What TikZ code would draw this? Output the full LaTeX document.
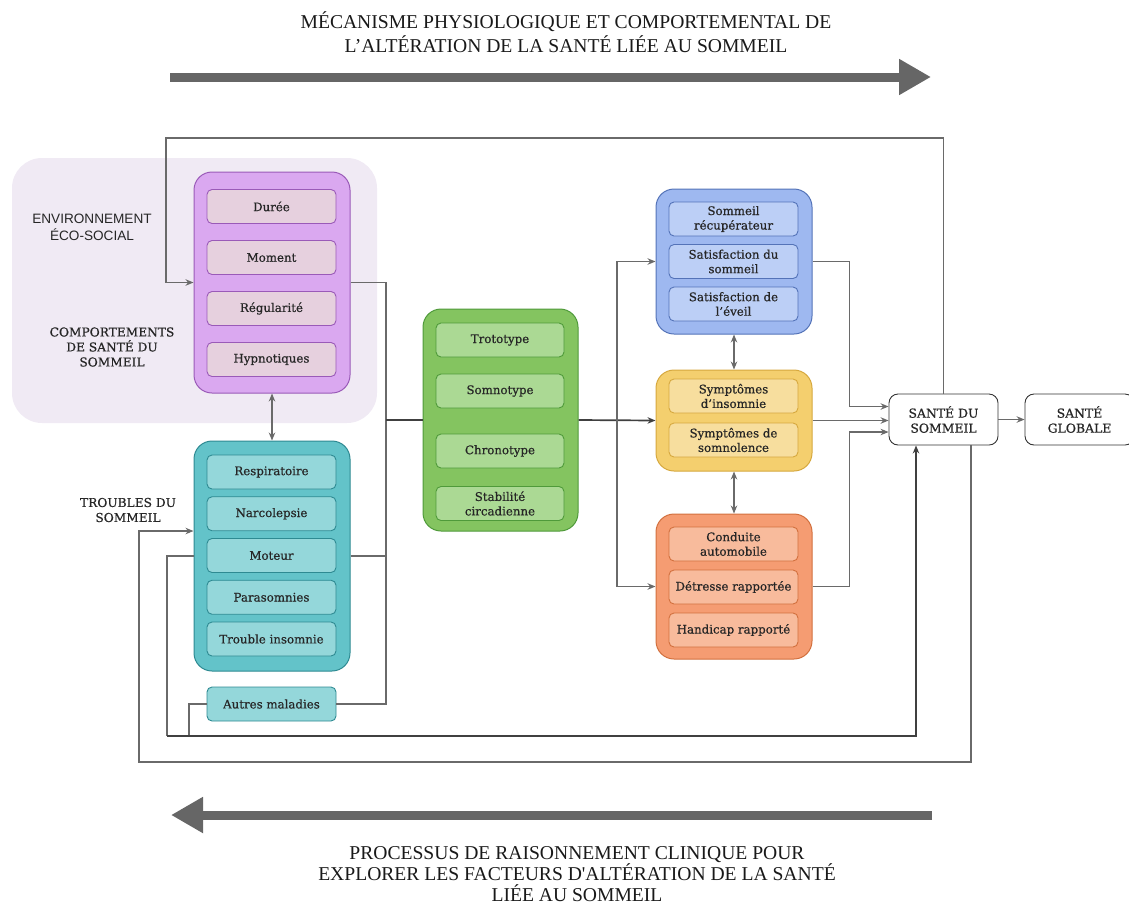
\documentclass[tikz,border=0pt]{standalone}
\usepackage{fontspec}
\setmainfont{DejaVu Serif}
\newfontfamily\boxfont{DejaVu Serif}[FakeBold=0.6]
\newfontfamily\titlefont{Liberation Serif}
\newfontfamily\labelsans{Liberation Sans}
\usetikzlibrary{arrows.meta}

\definecolor{bgLav}{HTML}{F0EAF4}
\definecolor{purOut}{HTML}{DAA8F0}
\definecolor{purLine}{HTML}{9A5AB8}
\definecolor{purIn}{HTML}{E6D0DE}
\definecolor{tealOut}{HTML}{63C3C9}
\definecolor{tealLine}{HTML}{2E8A92}
\definecolor{tealIn}{HTML}{94D7DA}
\definecolor{grnOut}{HTML}{84C460}
\definecolor{grnLine}{HTML}{4F9A3A}
\definecolor{grnIn}{HTML}{ABD994}
\definecolor{bluOut}{HTML}{9EB8F0}
\definecolor{bluLine}{HTML}{5473B8}
\definecolor{bluIn}{HTML}{BCCFF6}
\definecolor{yelOut}{HTML}{F4CF6E}
\definecolor{yelLine}{HTML}{D6A83E}
\definecolor{yelIn}{HTML}{F7DE9E}
\definecolor{orgOut}{HTML}{F59C72}
\definecolor{orgLine}{HTML}{D2703E}
\definecolor{orgIn}{HTML}{F8BB9C}
\definecolor{bigArrow}{HTML}{666666}
\definecolor{wireGray}{HTML}{6A6A6A}

\begin{document}
\begin{tikzpicture}[x=1pt,y=1pt,>={Stealth[length=8pt,width=6.5pt]},
    group box/.style={rounded corners=18pt,draw,line width=1pt},
    item box/.style={rounded corners=5pt,draw,line width=0.9pt,minimum width=129pt,minimum height=34pt,inner sep=1pt,align=center,text=black!85,font=\boxfont\fontsize{11.8}{14.5}\selectfont},
    purple grp/.style={group box,fill=purOut,draw=purLine,minimum width=156pt},
    purple item/.style={item box,fill=purIn,draw=purLine},
    teal grp/.style={group box,fill=tealOut,draw=tealLine,minimum width=156pt},
    teal item/.style={item box,fill=tealIn,draw=tealLine},
    green grp/.style={group box,fill=grnOut,draw=grnLine,minimum width=155pt},
    green item/.style={item box,fill=grnIn,draw=grnLine,minimum width=128pt},
    blue grp/.style={group box,fill=bluOut,draw=bluLine,minimum width=156pt},
    blue item/.style={item box,fill=bluIn,draw=bluLine},
    yellow grp/.style={group box,fill=yelOut,draw=yelLine,minimum width=156pt},
    yellow item/.style={item box,fill=yelIn,draw=yelLine},
    orange grp/.style={group box,fill=orgOut,draw=orgLine,minimum width=156pt},
    orange item/.style={item box,fill=orgIn,draw=orgLine},
    health box/.style={rounded corners=9pt,draw=black!80,line width=0.9pt,fill=white,minimum width=109pt,minimum height=51pt,align=center,text=black!85,font=\boxfont\fontsize{12.4}{15}\selectfont},
    side label/.style={align=center,text=black!85,font=\boxfont\fontsize{12.2}{15}\selectfont},
    title text/.style={align=center,inner sep=0pt,text=black!90,font=\titlefont\fontsize{19.6}{24}\selectfont},
    wire/.style={draw=wireGray,line width=1.1pt},
    trunk/.style={draw=black!75,line width=1.7pt},
    big arrow/.style={draw=bigArrow,line width=9pt,-{Triangle[length=32pt,width=34pt]}}]
    \useasboundingbox (0,0) rectangle (1129,-906);

    % background zone
    \fill[bgLav,rounded corners=30pt] (12,-158) rectangle (377,-423);

    % titles and big arrows
    \node[title text] (topTitle) at (566,-32) {MÉCANISME PHYSIOLOGIQUE ET COMPORTEMENTAL DE\\L’ALTÉRATION DE LA SANTÉ LIÉE AU SOMMEIL};
    \node[title text,font=\titlefont\fontsize{19.6}{21}\selectfont] (botTitle) at (577,-874) {PROCESSUS DE RAISONNEMENT CLINIQUE POUR\\EXPLORER LES FACTEURS D'ALTÉRATION DE LA SANTÉ\\LIÉE AU SOMMEIL};
    \coordinate (topStart) at (170,-77);
    \coordinate (topEnd) at (931,-77);
    \coordinate (botStart) at (932,-815);
    \coordinate (botEnd) at (171,-815);
    \draw[big arrow] (topStart) -- (topEnd);
    \draw[big arrow] (botStart) -- (botEnd);

    % side labels
    \node[side label,font=\labelsans\fontsize{13.6}{17}\selectfont] (envLabel) at (92,-227) {ENVIRONNEMENT\\ÉCO-SOCIAL};
    \node[side label] (compLabel) at (112,-347) {COMPORTEMENTS\\DE SANTÉ DU\\SOMMEIL};
    \node[side label] (troubLabel) at (128,-510) {TROUBLES DU\\SOMMEIL};

    % comportements
    \node[purple grp,minimum height=221pt] (comport) at (272,-282.5) {};
    \node[purple item] (duree) at (271.5,-206.5) {Durée};
    \node[purple item,node distance=51pt] (moment) [below of = duree] {Moment};
    \node[purple item,node distance=51pt] (regul) [below of = moment] {Régularité};
    \node[purple item,node distance=51pt] (hypno) [below of = regul] {Hypnotiques};

    % troubles
    \node[teal grp,minimum height=230pt] (troubles) at (272,-556) {};
    \node[teal item] (respi) at (271.5,-472) {Respiratoire};
    \node[teal item,node distance=41.75pt] (narco) [below of = respi] {Narcolepsie};
    \node[teal item,node distance=41.75pt] (moteur) [below of = narco] {Moteur};
    \node[teal item,node distance=41.75pt] (paras) [below of = moteur] {Parasomnies};
    \node[teal item,node distance=41.75pt] (insom) [below of = paras] {Trouble insomnie};
    \node[teal item,node distance=65pt] (autres) [below of = insom] {Autres maladies};

    % types
    \node[green grp,minimum height=222pt] (types) at (500.5,-420) {};
    \node[green item] (troto) at (500,-340) {Trototype};
    \node[green item,node distance=51pt] (somno) [below of = troto] {Somnotype};
    \node[green item,node distance=60pt] (chrono) [below of = somno] {Chronotype};
    \node[green item,node distance=52.5pt] (stabil) [below of = chrono] {Stabilité\\circadienne};

    % satisfaction
    \node[blue grp,minimum height=145pt] (satisf) at (734,-261.5) {};
    \node[blue item] (recup) at (733.5,-219) {Sommeil\\récupérateur};
    \node[blue item,node distance=42.5pt] (satsom) [below of = recup] {Satisfaction du\\sommeil};
    \node[blue item,node distance=42.5pt] (sateveil) [below of = satsom] {Satisfaction de\\l’éveil};

    % symptomes
    \node[yellow grp,minimum height=101pt] (sympt) at (734,-420.5) {};
    \node[yellow item] (syminsom) at (733.5,-396) {Symptômes\\d’insomnie};
    \node[yellow item,node distance=44pt] (symsomno) [below of = syminsom] {Symptômes de\\somnolence};

    % consequences
    \node[orange grp,minimum height=145pt] (conseq) at (734,-586.5) {};
    \node[orange item] (conduite) at (733.5,-544) {Conduite\\automobile};
    \node[orange item,node distance=43pt] (detresse) [below of = conduite] {Détresse rapportée};
    \node[orange item,node distance=43pt] (handicap) [below of = detresse] {Handicap rapporté};

    % sante
    \node[health box] (santeS) at (943.5,-419.5) {SANTÉ DU\\SOMMEIL};
    \node[health box] (santeG) at (1079.5,-419.5) {SANTÉ\\GLOBALE};

    % connectors
    \coordinate (bus) at (386,-420);
    \coordinate (split) at (617,-420);
    \draw[wire,->] (santeS.north) |- (166,-138) |- (comport.west);
    \draw[wire] (comport.east) -| (bus);
    \draw[wire] (troubles.east) -| (bus);
    \draw[wire] (autres.east) -| (bus);
    \draw[trunk] (bus) -- (types.west);
    \draw[trunk,->] (types.east) -- (sympt.west);
    \draw[wire,->] (split) |- (satisf.west);
    \draw[wire,->] (split) |- (conseq.west);
    \draw[wire,<->] (comport.south) -- (troubles.north);
    \draw[wire,<->] (satisf.south) -- (sympt.north);
    \draw[wire,<->] (sympt.south) -- (conseq.north);
    \draw[wire,->] (satisf.east) -| ([xshift=-39pt,yshift=13pt]santeS.west) -- ([yshift=13pt]santeS.west);
    \draw[wire,->] (sympt.east) -- (santeS.west |- sympt.east);
    \draw[wire,->] (conseq.east) -| ([xshift=-39pt,yshift=-12.5pt]santeS.west) -- ([yshift=-12.5pt]santeS.west);
    \draw[wire,->] (santeS) -- (santeG);
    \draw[wire] (troubles.west) -| (167,-736);
    \draw[wire] (autres.west) -| (189,-736);
    \draw[trunk,->] (167,-736) -| ([xshift=-27.5pt]santeS.south);
    \draw[wire,->] ([xshift=27.5pt]santeS.south) |- (139,-762) |- ([yshift=25pt]troubles.west);
\end{tikzpicture}
\end{document}
